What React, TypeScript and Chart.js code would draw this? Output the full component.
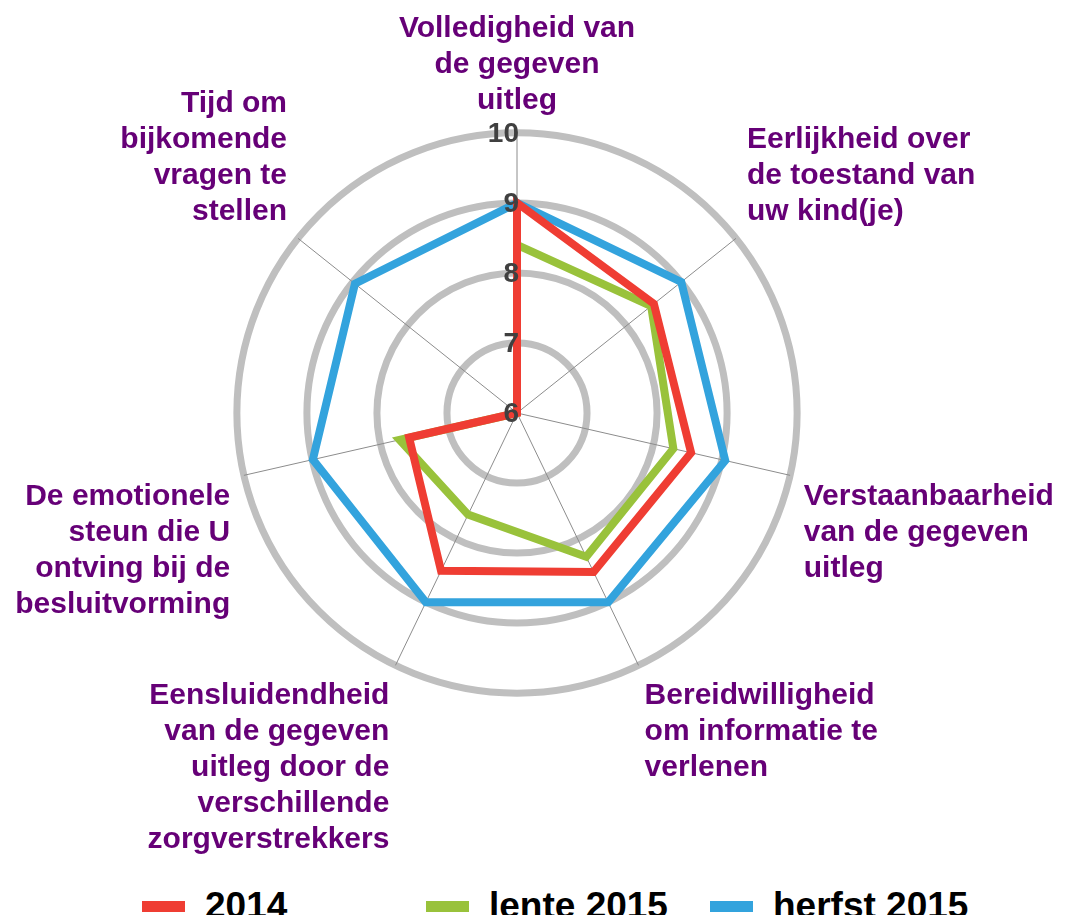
import React, { useEffect, useRef } from 'react';
import { Chart, registerables } from 'chart.js';

Chart.register(...registerables);

const categories: string[][] = [
  ['Volledigheid van', 'de gegeven', 'uitleg'],
  ['Eerlijkheid over', 'de toestand van', 'uw kind(je)'],
  ['Verstaanbaarheid', 'van de gegeven', 'uitleg'],
  ['Bereidwilligheid', 'om informatie te', 'verlenen'],
  ['Eensluidendheid', 'van de gegeven', 'uitleg door de', 'verschillende', 'zorgverstrekkers'],
  ['De emotionele', 'steun die U', 'ontving bij de', 'besluitvorming'],
  ['Tijd om', 'bijkomende', 'vragen te', 'stellen'],
];

const seriesNames = ['2014', 'lente 2015', 'herfst 2015'];
const values2014 = [9.0, 8.5, 8.55, 8.52, 8.5, 7.58, 6.0];
const valuesLente2015 = [8.4, 8.45, 8.29, 8.28, 7.61, 7.72, 6.0];
const valuesHerfst2015 = [9.0, 9.0, 9.05, 9.0, 9.0, 8.99, 8.96];
const tickValues = [6, 7, 8, 9, 10];
const seriesColors = ['#EF3D33', '#99C23B', '#33A3DD'];

const FONT = "'Liberation Sans', Arial, sans-serif";

const tickLabelPlugin = {
  id: 'tickLabels',
  afterDatasetsDraw(chart: any) {
    const scale = chart.scales.r;
    const ctx = chart.ctx;
    ctx.save();
    ctx.font = `bold 28px ${FONT}`;
    ctx.fillStyle = '#404040';
    ctx.textAlign = 'right';
    ctx.textBaseline = 'middle';
    tickValues.forEach((v) => {
      const d = scale.getDistanceFromCenterForValue(v);
      ctx.fillText(String(v), scale.xCenter + 2, scale.yCenter - d + 1);
    });
    ctx.restore();
  },
};

export default function App() {
  const canvasRef = useRef<HTMLCanvasElement | null>(null);

  useEffect(() => {
    if (!canvasRef.current) return;
    const allValues = [values2014, valuesLente2015, valuesHerfst2015];
    const chart = new Chart(canvasRef.current, {
      type: 'radar',
      data: {
        labels: categories,
        datasets: seriesNames.map((name, i) => ({
          label: name,
          data: allValues[i],
          borderColor: seriesColors[i],
          backgroundColor: seriesColors[i],
          borderWidth: 8,
          borderJoinStyle: 'miter' as const,
          pointRadius: 0,
          pointHoverRadius: 0,
          fill: false,
          tension: 0,
        })),
      },
      options: {
        animation: false,
        responsive: true,
        maintainAspectRatio: false,
        layout: { padding: 0 },
        plugins: {
          legend: { display: false },
          tooltip: { enabled: false },
        },
        scales: {
          r: {
            min: 6,
            max: 10,
            ticks: { display: false, stepSize: 1 },
            grid: { circular: true, color: '#BFBFBF', lineWidth: 7 },
            angleLines: { display: true, color: '#8C8C8C', lineWidth: 1 },
            pointLabels: {
              display: true,
              color: '#660077',
              padding: 14,
              font: { family: FONT, size: 30, weight: 'bold', lineHeight: 1.2 },
            },
          },
        },
      },
      plugins: [tickLabelPlugin],
    });
    return () => chart.destroy();
  }, []);

  const legendItem = (i: number) => (
    <div
      key={i}
      style={{
        position: 'absolute',
        left: 134 + i * 284,
        top: 0,
        display: 'flex',
        alignItems: 'center',
        height: 40,
      }}
    >
      <span
        style={{
          display: 'inline-block',
          width: 43,
          height: 11,
          background: seriesColors[i],
          marginRight: 20,
        }}
      />
      <span style={{ fontFamily: FONT, fontWeight: 'bold', fontSize: 37, color: '#000', lineHeight: '40px' }}>
        {seriesNames[i]}
      </span>
    </div>
  );

  return (
    <div style={{ position: 'relative', width: 1058, height: 907 }}>
      <div style={{ position: 'absolute', left: -10, top: -18, width: 1076, height: 890 }}>
        <canvas ref={canvasRef} />
      </div>
      <div style={{ position: 'absolute', left: 0, top: 878, width: 1058, height: 40 }}>
        {seriesNames.map((_, i) => legendItem(i))}
      </div>
    </div>
  );
}
